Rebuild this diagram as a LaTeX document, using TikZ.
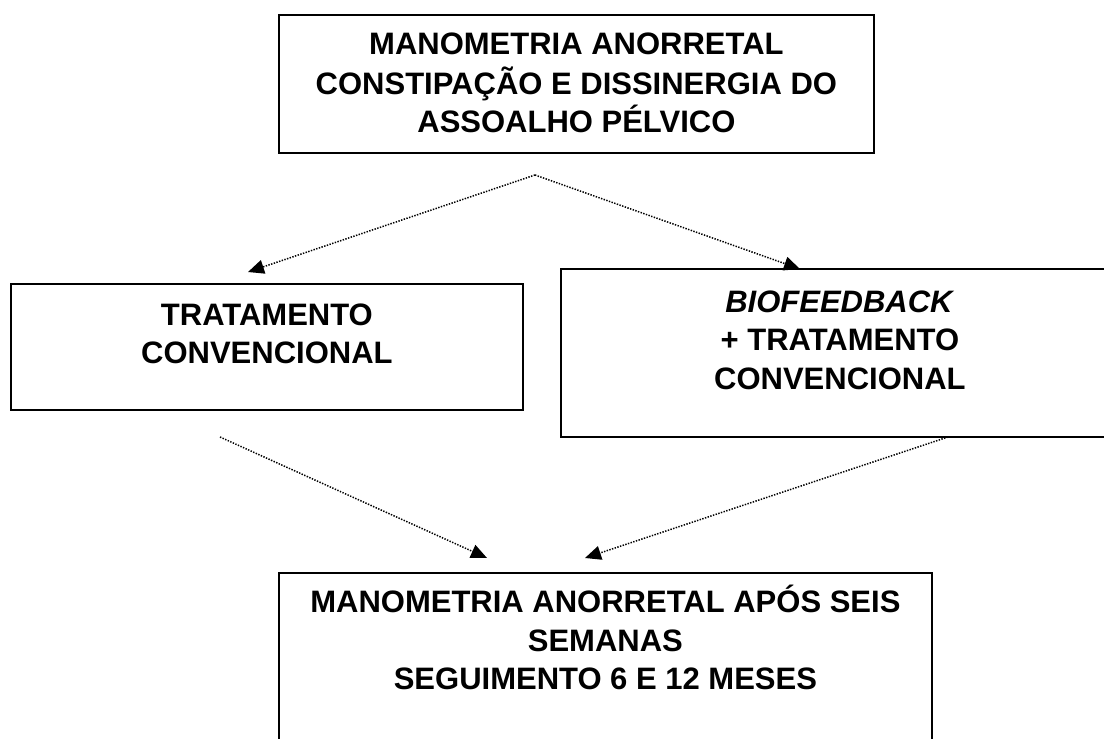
\documentclass[tikz,border=0pt]{standalone}
\usepackage{fontspec}
\setmainfont{Liberation Sans}
\usetikzlibrary{arrows.meta}
\begin{document}
\begin{tikzpicture}[x=1pt,y=-1pt,
  box/.style={draw, line width=1.8pt, inner sep=0pt, anchor=north west},
  boxtext/.style={anchor=north, inner sep=0pt, align=center,
    font=\fontsize{31}{38.5}\selectfont\bfseries},
  flow/.style={line width=1.5pt, dash pattern=on 1.4pt off 1.4pt,
    -{Triangle[length=16pt,width=14pt]}}]
\useasboundingbox (0,0) rectangle (1104,739);
\clip (0,0) rectangle (1104,739);
\fill[white] (0,0) rectangle (1104,739);
% boxes
\node[box, minimum width=595pt, minimum height=138pt] (top) at (278,14) {};
\node[box, minimum width=512pt, minimum height=126pt] (left) at (10,283) {};
\node[box, minimum width=558pt, minimum height=168pt] (right) at (560,268) {};
\node[box, minimum width=653pt, minimum height=200pt] (bottom) at (278,572) {};
% texts
\node[boxtext, yshift=-13pt] (toptext) at (top.north)
  {\strut MANOMETRIA ANORRETAL\\CONSTIPAÇÃO E DISSINERGIA DO\\ASSOALHO PÉLVICO};
\node[boxtext, yshift=-15pt] (lefttext) at (left.north)
  {\strut TRATAMENTO\\CONVENCIONAL};
\node[boxtext, yshift=-17pt] (righttext) at (right.north)
  {\strut\textit{BIOFEEDBACK}\\+ TRATAMENTO\\CONVENCIONAL};
\node[boxtext, yshift=-13pt] (bottomtext) at (bottom.north)
  {\strut MANOMETRIA ANORRETAL APÓS SEIS\\SEMANAS\\SEGUIMENTO 6 E 12 MESES};
% connector end points
\coordinate (apex) at (535,175);
\coordinate (tipL) at (248,272);
\coordinate (tipR) at (800,269);
\coordinate (startL) at (220,437);
\coordinate (startR) at (948,437);
\coordinate (tipBL) at (487,558);
\coordinate (tipBR) at (585,558);
% connectors
\draw[flow] (apex) -- (tipL);
\draw[flow] (apex) -- (tipR);
\draw[flow] (startL) -- (tipBL);
\draw[flow] (startR) -- (tipBR);
\end{tikzpicture}
\end{document}
